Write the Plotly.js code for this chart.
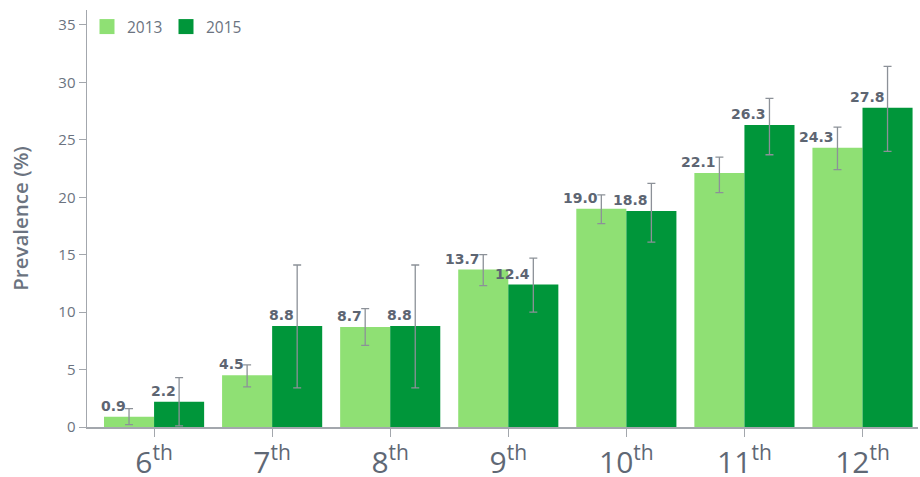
<!DOCTYPE html>
<html>
<head>
<meta charset="utf-8">
<script src="https://cdn.plot.ly/plotly-3.0.1.min.js"></script>
<style>html,body{margin:0;padding:0;background:#fff;}#chart{width:920px;height:477px;}</style>
</head>
<body>
<div id="chart"></div>
<script>
const grades = ["6th", "7th", "8th", "9th", "10th", "11th", "12th"];
const gradeLabels = ["6<sup>th</sup>", "7<sup>th</sup>", "8<sup>th</sup>", "9<sup>th</sup>", "10<sup>th</sup>", "11<sup>th</sup>", "12<sup>th</sup>"];
const years = ["2013", "2015"];
const v2013 = [0.9, 4.5, 8.7, 13.7, 19.0, 22.1, 24.3];
const v2015 = [2.2, 8.8, 8.8, 12.4, 18.8, 26.3, 27.8];
const hi2013 = [1.6, 5.4, 10.3, 15.0, 20.2, 23.5, 26.1];
const lo2013 = [0.2, 3.5, 7.1, 12.3, 17.7, 20.4, 22.4];
const hi2015 = [4.3, 14.1, 14.1, 14.7, 21.2, 28.6, 31.4];
const lo2015 = [0.1, 3.4, 3.4, 10.0, 16.1, 23.7, 24.0];

const c2013 = "#8fe074", c2015 = "#00963a";
const errColor = "#8c9198";
const idx = grades.map((g, i) => i);

function trace(name, vals, hi, lo, color) {
  return {
    type: "bar", name: name, x: idx, y: vals, showlegend: false,
    marker: {color: color, line: {width: 0}},
    error_y: {type: "data", symmetric: false,
      array: vals.map((v, i) => hi[i] - v),
      arrayminus: vals.map((v, i) => v - lo[i]),
      color: errColor, thickness: 1.3, width: 4},
    hoverinfo: "y"
  };
}
function legendTrace(name, color) {
  return {type: "scatter", mode: "markers", name: name, x: [null], y: [null],
    marker: {symbol: "square", size: 15, color: color, line: {width: 0}}, showlegend: true};
}

const data = [
  trace(years[0], v2013, hi2013, lo2013, c2013),
  trace(years[1], v2015, hi2015, lo2015, c2015),
  legendTrace(years[0], c2013),
  legendTrace(years[1], c2015)
];

const half = 0.212;
const annotations = [];
function addLabels(vals, off) {
  vals.forEach((v, i) => annotations.push({
    x: i + off, y: v, xref: "x", yref: "y", text: v.toFixed(1),
    showarrow: false, xanchor: "right", yanchor: "bottom", xshift: -1, yshift: 1,
    font: {family: "DejaVu Sans", size: 14, color: "#5d6572", weight: "bold"}
  }));
}
addLabels(v2013, -half);
addLabels(v2015, half);

const layout = {
  width: 920, height: 477,
  margin: {l: 87, r: 2, t: 10, b: 50},
  paper_bgcolor: "#fff", plot_bgcolor: "#fff",
  barmode: "group", bargap: 0.152, bargroupgap: 0,
  showlegend: true,
  legend: {orientation: "h", x: 0.0, y: 1.0, xanchor: "left", yanchor: "top",
    font: {family: "Open Sans", size: 15.5, color: "#6b7380"}, itemwidth: 30,
    entrywidth: 34, entrywidthmode: "pixels", itemsizing: "trace", bgcolor: "rgba(0,0,0,0)"},
  xaxis: {
    type: "linear", range: [-0.568, 6.47],
    tickvals: idx, ticktext: gradeLabels,
    showgrid: false, zeroline: false, showline: true, linecolor: "#a3a7ad", linewidth: 1.5,
    ticks: "outside", ticklen: 8, tickcolor: "#a3a7ad", tickwidth: 1,
    tickfont: {family: "Open Sans", size: 30, color: "#5f6875"}
  },
  yaxis: {
    range: [0, 36.3], tickvals: [0, 5, 10, 15, 20, 25, 30, 35],
    showgrid: false, zeroline: false, showline: true, linecolor: "#a3a7ad", linewidth: 1.5,
    ticks: "outside", ticklen: 7, tickcolor: "#a3a7ad", tickwidth: 1,
    tickfont: {family: "Open Sans", size: 15, color: "#6b7380"},
    title: {text: "Prevalence (%)", font: {family: "Open Sans", size: 20.5, color: "#6b7380", weight: 600}, standoff: 24}
  },
  annotations: annotations
};

Plotly.newPlot("chart", data, layout, {displayModeBar: false, staticPlot: true});
</script>
</body>
</html>
